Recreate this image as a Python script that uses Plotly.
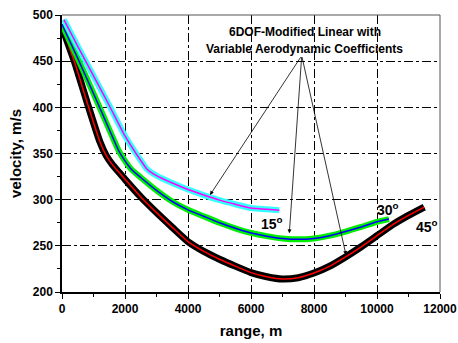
import plotly.graph_objects as go

# 45 deg
r45 = [0, 400, 800, 1200, 1400, 1600, 1800, 2000, 2500, 3000, 3500, 4000, 4500, 5000, 5500, 6000, 6500, 7000, 7500, 8000, 8500, 9000, 9500, 10000, 10500, 11000, 11500]
v45 = [487, 449, 405, 363, 348, 338, 330, 322, 303, 286, 270, 254.5, 244, 235.5, 228, 221, 216.5, 214, 215.5, 220.5, 228, 238, 249, 261, 273, 283, 292]
# 30 deg
r30 = [0, 500, 1000, 1500, 1800, 2000, 2200, 2500, 3000, 3500, 4000, 4500, 5000, 5500, 6000, 6500, 7000, 7500, 8000, 8500, 9000, 9500, 10000, 10380]
v30 = [490, 453, 415, 376, 353, 342, 333, 324, 310, 298, 289, 282, 275, 269, 264, 260.5, 258, 257, 258, 261, 265.5, 270.5, 276, 279]
# 15 deg
r15 = [60, 500, 1000, 1500, 2000, 2350, 2550, 2700, 3000, 3500, 4000, 4500, 5000, 5500, 6000, 6500, 6900]
v15 = [495, 466, 434, 402, 369, 350, 340, 333, 326, 318, 311, 305, 299.5, 295, 291, 289.5, 288.5]

x_ticks = [0, 2000, 4000, 6000, 8000, 10000, 12000]
x_labels = ["0", "2000", "4000", "6000", "8000", "10000", "12000"]
y_ticks = [200, 250, 300, 350, 400, 450, 500]
y_labels = ["200", "250", "300", "350", "400", "450", "500"]

FONT = "Liberation Sans, Arial, sans-serif"

fig = go.Figure()
series = [
    (r45, v45, "black", 7, "red"),
    (r30, v30, "#00ee00", 6, "blue"),
    (r15, v15, "#33ffff", 6, "#ff00ff"),
]
for rr, vv, outer, w, inner in series:
    fig.add_trace(go.Scatter(x=rr, y=vv, mode="lines",
                             line=dict(color=outer, width=w, shape="spline", smoothing=0.5),
                             hoverinfo="skip", showlegend=False))
    fig.add_trace(go.Scatter(x=rr, y=vv, mode="lines",
                             line=dict(color=inner, width=1.5, shape="spline", smoothing=0.5),
                             hoverinfo="skip", showlegend=False))

axis_common = dict(
    showline=True, linecolor="black", linewidth=1.5,
    ticks="outside", ticklen=5, tickwidth=1, tickcolor="black",
    showgrid=True, gridcolor="black", gridwidth=0.8, griddash="dashdot",
    zeroline=False, automargin=False,
    tickfont=dict(family=FONT, size=12, color="black", weight="bold"),
)

fig.update_xaxes(range=[0, 12000], tickvals=x_ticks, ticktext=x_labels,
                 minor=dict(dtick=1000, ticks="outside", ticklen=3, tickcolor="black", showgrid=False),
                 title=dict(text="range, m", font=dict(family=FONT, size=15, color="black", weight="bold"), standoff=10),
                 **axis_common)
fig.update_yaxes(range=[200, 500], tickvals=y_ticks, ticktext=y_labels,
                 minor=dict(dtick=25, ticks="outside", ticklen=3, tickcolor="black", showgrid=False),
                 title=dict(text="velocity, m/s", font=dict(family=FONT, size=15, color="black", weight="bold"), standoff=8),
                 **axis_common)

# top and right frame
fig.add_shape(type="line", xref="paper", yref="paper", x0=0, x1=1, y0=1, y1=1, line=dict(color="#555", width=1))
fig.add_shape(type="line", xref="paper", yref="paper", x0=1, x1=1, y0=0, y1=1, line=dict(color="#555", width=1))

ann_font = dict(family=FONT, size=12, color="black", weight="bold")
fig.add_annotation(x=7714, y=481.5, text="6DOF-Modified Linear with",
                   showarrow=False, font=ann_font, xanchor="center", yanchor="middle")
fig.add_annotation(x=7714, y=463, text="Variable Aerodynamic Coefficients",
                   showarrow=False, font=ann_font, xanchor="center", yanchor="middle")

tail = (7610, 456)
for tx, ty in [(4698, 305), (7216, 263.5), (9016, 240)]:
    fig.add_annotation(x=tx, y=ty, ax=tail[0], ay=tail[1], axref="x", ayref="y",
                       text="", showarrow=True, arrowhead=2, arrowsize=1, arrowwidth=0.8, arrowcolor="black")

deg_font = dict(family=FONT, size=14, color="black", weight="bold")
for lx, ly, t in [(6657, 275, "15"), (10360, 290, "30"), (11577, 272, "45")]:
    fig.add_annotation(x=lx, y=ly, text=t + "<sup>o</sup>", showarrow=False, font=deg_font)

fig.update_layout(
    width=458, height=343,
    margin=dict(l=62, r=18, t=15, b=51),
    paper_bgcolor="white", plot_bgcolor="white",
    showlegend=False,
)

fig.write_html("out.html")
